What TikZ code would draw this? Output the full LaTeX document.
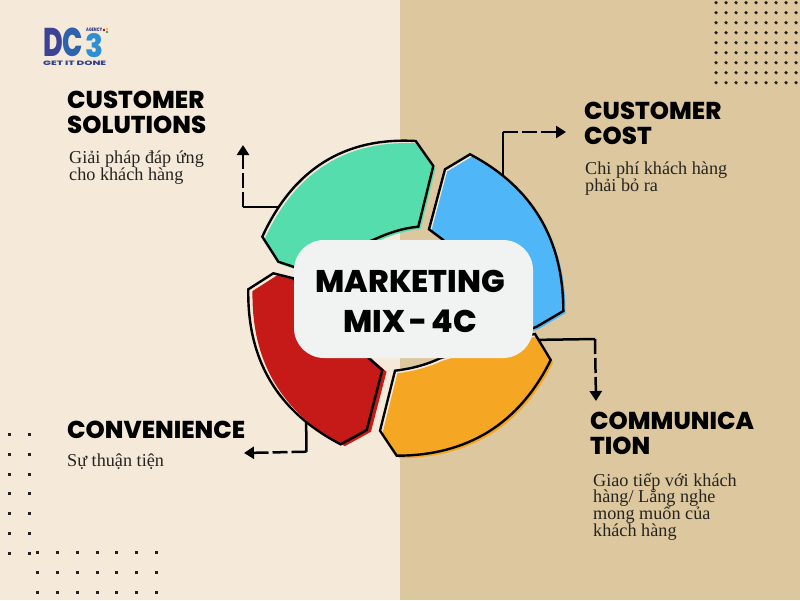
\documentclass[tikz,border=0pt]{standalone}
\usepackage{fontspec}
\usepackage{graphicx}
\usetikzlibrary{arrows.meta}
\newfontfamily\headf{Poppins ExtraBold}
\newfontfamily\bodyf{Liberation Serif}
\definecolor{creambg}{HTML}{F5EAD9}
\definecolor{tanbg}{HTML}{DDC79E}
\definecolor{cgreen}{HTML}{55DDAE}
\definecolor{cblue}{HTML}{4FB6F7}
\definecolor{corange}{HTML}{F5A623}
\definecolor{cred}{HTML}{C51A17}
\definecolor{boxbg}{HTML}{F1F3F2}
\definecolor{bodyink}{HTML}{262420}
\definecolor{dotink}{HTML}{222222}
\newcommand\greenpath{(262.3,236.7) .. controls (293.4,169) and (344.7,137) .. (415.7,141) -- (433.3,166) -- (418.3,226.7) .. controls (403,228) and (388,233) .. (373,240) -- (295,267.3) -- (278.3,261.7) -- cycle}
\newcommand\bluepath{(470,154.3) .. controls (532.3,187.1) and (563.4,239.3) .. (563.3,311) -- (536.7,326.7) -- (500,340) -- (443.3,240) -- (429,229.3) -- (445,169.3) -- cycle}
\newcommand\orangepath{(535,334) -- (550.7,360) .. controls (519.1,423.7) and (467.8,455.6) .. (396.7,455.7) -- (380,430.7) -- (395,370.7) .. controls (410,369) and (426,365) .. (440,358.3) -- (500,340) -- cycle}
\newcommand\redpath{(273.3,273.3) -- (248.3,289.3) .. controls (247.1,360.2) and (277.9,411.8) .. (340.7,444.3) -- (366.7,430) -- (382.3,370) -- (370,359.3) -- (330,320) -- (293.3,278.3) -- cycle}
\tikzset{
  outline/.style={draw=black,line width=2.4pt,line join=miter},
  solidseg/.style={draw=black,line width=2.5pt,line join=miter},
  dashseg/.style={draw=black,line width=2.5pt,dash pattern=on 15pt off 4pt,-{Triangle[length=10pt,width=12pt]}},
  headtext/.style={font=\headf\fontsize{24.4}{25}\selectfont,align=left,inner sep=0pt,text=black,anchor=north west},
  bodytext/.style={font={\bodyf\fontsize{18.2}{16.6}\selectfont\lineskiplimit=-20pt},align=left,inner sep=0pt,text=bodyink,anchor=north west},
  hubbox/.style={fill=boxbg,rounded corners=30pt,minimum width=239pt,minimum height=118pt,inner sep=0pt},
  hubtext/.style={align=center,inner sep=0pt,font=\headf\fontsize{31.3}{40}\selectfont,text=black},
  roundspot/.style={fill=dotink},
}
\begin{document}
\begin{tikzpicture}[x=1pt,y=-1pt]
\useasboundingbox (0,0) rectangle (800,600);
\fill[creambg] (0,0) rectangle (400,600);
\fill[tanbg] (400,0) rectangle (800,600);
% dot grids
\foreach \i in {0,...,8}{\foreach \j in {0,...,8}{\fill[roundspot] (716+10*\i,2.7+10*\j) circle (1.8pt);}}
\foreach \j in {0,...,6}{\fill[roundspot] (7.9,432.9+19.85*\j) rectangle ++(3,3);\fill[roundspot] (27.9,432.9+19.85*\j) rectangle ++(3,3);}
\foreach \i in {0,...,6}{\foreach \j in {0,1,2}{\fill[roundspot] (36+19.85*\i,551.3+20*\j) rectangle ++(3,3);}}
% logo
\node[inner sep=0pt,anchor=north west] (logoDC) at (43,28) {\headf\resizebox{40pt}{28.5pt}{\textcolor[HTML]{3A4396}{D}\textcolor[HTML]{2F62AE}{C}}};
\node[inner sep=0pt,anchor=north west] (logo3) at (85,33) {\headf\resizebox{18pt}{24pt}{\textcolor[HTML]{2E8FD2}{3}}};
\node[inner sep=0pt,anchor=north west] (logoAg) at (86,28) {\headf\resizebox{16pt}{3.5pt}{\textcolor[HTML]{34408A}{AGENCY}}};
\node[inner sep=0pt,anchor=north west] (logoGet) at (43,61) {\headf\resizebox{63pt}{4.5pt}{\textcolor[HTML]{34408A}{GET IT DONE}}};
\fill[red!70!black] (104,30) circle (1.4pt);
\fill[cgreen!70!black] (107,32) circle (1.4pt);
\fill[corange] (107,29) circle (1.2pt);
% connector points
\coordinate (ga) at (296,207);
\coordinate (gb) at (243,207);
\coordinate (gc) at (243,145);
\coordinate (ba) at (503,185);
\coordinate (bb) at (503,132);
\coordinate (bc) at (566,132);
\coordinate (oa) at (530,340);
\coordinate (ob) at (595,339);
\coordinate (oc) at (596,401);
\coordinate (ra) at (306,412);
\coordinate (rb) at (306.5,451.7);
\coordinate (rc) at (244,453);
\draw[solidseg] (ga) -- (gb);\draw[dashseg] (gb) -- (gc);
\draw[solidseg] (ba) -- (bb);\draw[dashseg] (bb) -- (bc);
\draw[solidseg] (oa) -- (ob);\draw[dashseg] (ob) -- (oc);
\draw[solidseg] (ra) -- (rb);\draw[dashseg] (rb) -- (rc);
% segments
\fill[creambg] \greenpath;\fill[cgreen,shift={(2.2,2.4)}] \greenpath;\path[outline] \greenpath;
\fill[creambg] \bluepath;\fill[cblue,shift={(2.2,2.2)}] \bluepath;\path[outline] \bluepath;
\fill[creambg] \orangepath;\fill[corange,shift={(2.5,2.5)}] \orangepath;\path[outline] \orangepath;
\fill[creambg] \redpath;\fill[cred,shift={(4.2,1.8)}] \redpath;\path[outline] \redpath;
% centre
\node[hubbox] (hub) at (413.5,299) {};
\node[hubtext] (hubt) at (410.3,301) {MARKETING\\MIX\hspace{-2pt} - \hspace{-2pt}4C};
% headings
\node[headtext] (h1) at (67,91) {CUSTOMER\\SOLUTIONS};
\node[headtext] (h2) at (584,102) {CUSTOMER\\COST};
\node[headtext] (h3) at (590,412) {COMMUNICA\\TION};
\node[headtext] (h4) at (67,421) {CONVENIENCE};
% descriptions
\node[bodytext] (d1) at (69,151) {Giải pháp đáp ứng\\cho khách hàng};
\node[bodytext] (d2) at (585,162) {Chi phí khách hàng\\phải bỏ ra};
\node[bodytext] (d3) at (593,473) {Giao tiếp với khách\\hàng/ Lắng nghe\\mong muốn của\\khách hàng};
\node[bodytext] (d4) at (67,454) {Sự thuận tiện};
\end{tikzpicture}
\end{document}
